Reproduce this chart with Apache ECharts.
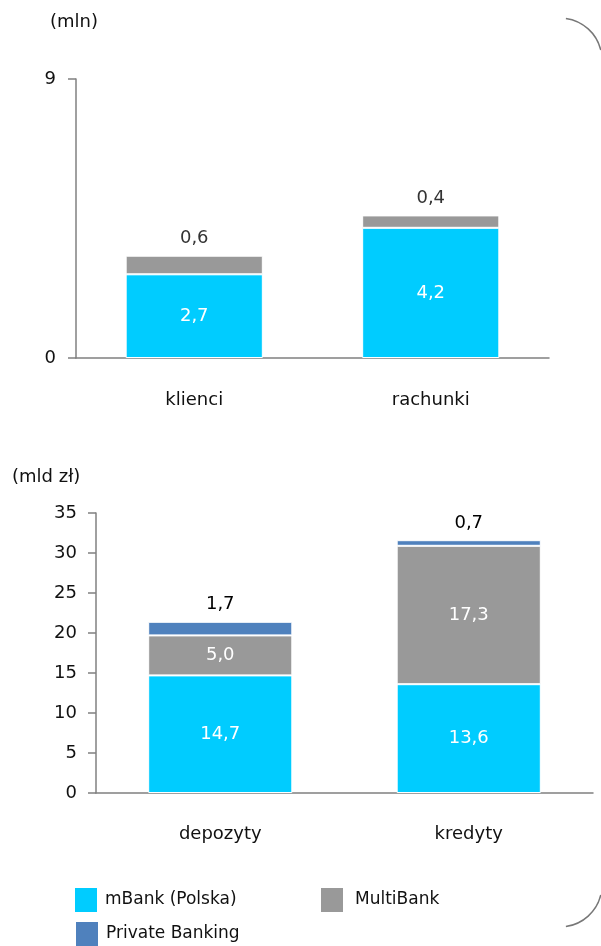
<!DOCTYPE html>
<html>
<head>
<meta charset="utf-8">
<script src="https://cdn.jsdelivr.net/npm/echarts@6/dist/echarts.min.js"></script>
<style>html,body{margin:0;padding:0;background:#fff}#c{width:601px;height:946px}</style>
</head>
<body>
<div id="c"></div>
<script>
const topCategories = ['klienci', 'rachunki'];
const topMBank = [2.7, 4.2];
const topMultiBank = [0.6, 0.4];
const topTicks = [0, 9];

const botCategories = ['depozyty', 'kredyty'];
const botMBank = [14.7, 13.6];
const botMultiBank = [5.0, 17.3];
const botPrivate = [1.7, 0.7];
const botTicks = [0, 5, 10, 15, 20, 25, 30, 35];

const FONT = 'DejaVu Sans';
const C_MB = '#00CCFF', C_MULTI = '#999999', C_PB = '#4F81BD';
const AXIS = '#808080';
const fmt = p => p.value.toFixed(1).replace('.', ',');

const chart = echarts.init(document.getElementById('c'));
const axisLine = { lineStyle: { color: AXIS, width: 1.5 } };
const axisTick = { length: 8, lineStyle: { color: AXIS, width: 1.5 } };

function bar(name, data, xi, color, pos, labelColor) {
  return {
    type: 'bar', name, data, xAxisIndex: xi, yAxisIndex: xi, stack: 's' + xi,
    barWidth: '58%',
    itemStyle: { color, borderColor: '#fff', borderWidth: 1 },
    label: { show: true, position: pos, formatter: fmt, color: labelColor,
      fontFamily: FONT, fontSize: 18, distance: 8 }
  };
}

const legendCommon = { itemWidth: 24, itemHeight: 26, itemGap: 8, padding: 0, icon: 'rect',
  textStyle: { fontFamily: FONT, fontSize: 17, color: '#111', padding: [0, 0, 0, 2] } };

chart.setOption({
  animation: false,
  textStyle: { fontFamily: FONT },
  title: [
    { text: '(mln)', left: 50, top: 13, padding: 0, textStyle: { fontFamily: FONT, fontSize: 18, fontWeight: 'normal', color: '#111' } },
    { text: '(mld zł)', left: 12, top: 468, padding: 0, textStyle: { fontFamily: FONT, fontSize: 18, fontWeight: 'normal', color: '#111' } }
  ],
  grid: [
    { left: 76, right: 52, top: 79, height: 279 },
    { left: 96, right: 8, top: 513, height: 280 }
  ],
  xAxis: [
    { type: 'category', gridIndex: 0, data: topCategories, axisLine, axisTick: { length: 9, lineStyle: { color: AXIS, width: 1.5 } },
      axisLabel: { margin: 33, fontSize: 18, color: '#111', fontFamily: FONT } },
    { type: 'category', gridIndex: 1, data: botCategories, axisLine, axisTick: { length: 9, lineStyle: { color: AXIS, width: 1.5 } },
      axisLabel: { margin: 32, fontSize: 18, color: '#111', fontFamily: FONT } }
  ],
  yAxis: [
    { type: 'value', gridIndex: 0, min: topTicks[0], max: topTicks[topTicks.length - 1], interval: 9,
      axisLine: { show: true, lineStyle: { color: AXIS, width: 1.5 } }, axisTick: { show: true, ...axisTick }, splitLine: { show: false },
      axisLabel: { margin: 20, fontSize: 18, color: '#111', fontFamily: FONT } },
    { type: 'value', gridIndex: 1, min: botTicks[0], max: botTicks[botTicks.length - 1], interval: 5,
      axisLine: { show: true, lineStyle: { color: AXIS, width: 1.5 } }, axisTick: { show: true, ...axisTick }, splitLine: { show: false },
      axisLabel: { margin: 19, fontSize: 18, color: '#111', fontFamily: FONT } }
  ],
  legend: [
    { ...legendCommon, data: ['mBank (Polska)'], left: 73, top: 886 },
    { ...legendCommon, data: ['MultiBank'], left: 319, top: 886,
      textStyle: { ...legendCommon.textStyle, padding: [0, 0, 0, 6] } },
    { ...legendCommon, data: ['Private Banking'], left: 74, top: 920 }
  ],
  series: [
    bar('mBank (Polska)', topMBank, 0, C_MB, 'inside', '#fff'),
    bar('MultiBank', topMultiBank, 0, C_MULTI, 'top', '#333'),
    bar('mBank (Polska)', botMBank, 1, C_MB, 'inside', '#fff'),
    bar('MultiBank', botMultiBank, 1, C_MULTI, 'inside', '#fff'),
    bar('Private Banking', botPrivate, 1, C_PB, 'top', '#000')
  ],
  graphic: [
    { type: 'arc', shape: { cx: 560, cy: 60, r: 42, startAngle: -1.43, endAngle: -0.24, clockwise: true },
      style: { stroke: '#777', lineWidth: 1.5, fill: null } },
    { type: 'arc', shape: { cx: 560, cy: 885, r: 42, startAngle: 0.24, endAngle: 1.43, clockwise: true },
      style: { stroke: '#777', lineWidth: 1.5, fill: null } }
  ]
});
</script>
</body>
</html>
